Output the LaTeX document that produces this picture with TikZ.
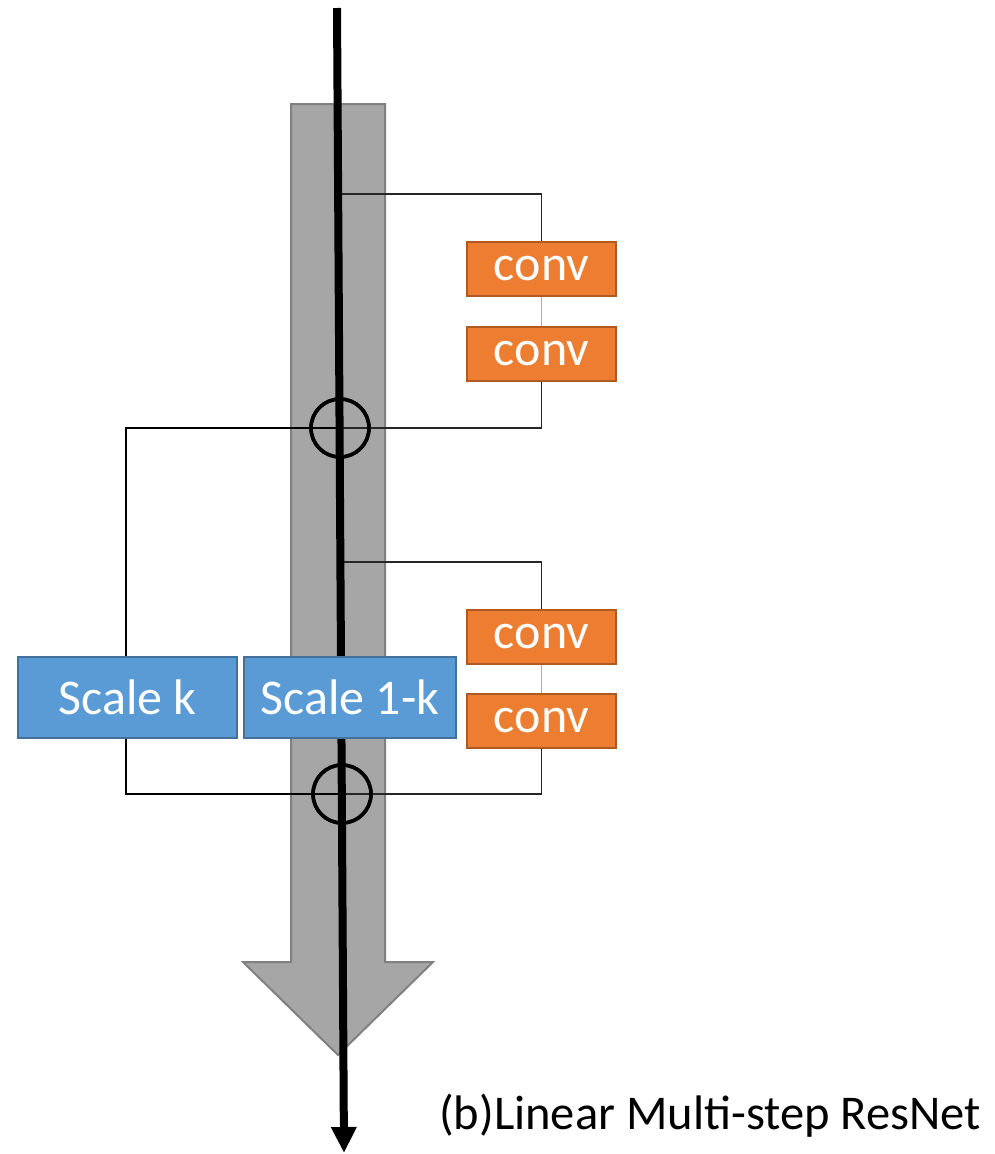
\documentclass[tikz,border=0pt]{standalone}
\usepackage{fontspec}
\setmainfont{Carlito}
\usetikzlibrary{arrows.meta}
\definecolor{convfill}{HTML}{ED7D31}
\definecolor{convline}{HTML}{AE5A21}
\definecolor{scalefill}{HTML}{5B9BD5}
\definecolor{scaleline}{HTML}{41719C}
\definecolor{linkblue}{HTML}{8DB7E2}
\definecolor{flowfill}{HTML}{A6A6A6}
\definecolor{flowline}{HTML}{808080}
\tikzset{
  convbox/.style={draw=convline, line width=2pt, fill=convfill, text=white,
    minimum width=149pt, minimum height=54pt, inner sep=0pt,
    font=\fontsize{50}{52}\selectfont},
  scalebox/.style={draw=scaleline, line width=2pt, fill=scalefill, text=white,
    minimum height=81pt, inner sep=0pt, font=\fontsize{50}{52}\selectfont},
  sumnode/.style={circle, draw=black, line width=3.5pt, minimum size=58pt, inner sep=0pt},
  thin wire/.style={draw=black!85, line width=1.2pt},
  thick wire/.style={draw=black, line width=2.6pt},
  link wire/.style={draw=linkblue, line width=1.8pt},
  mainflow/.style={draw=black, line width=8pt, -{Triangle[length=26pt,width=24pt]}},
}
\begin{document}
\begin{tikzpicture}[x=1pt,y=-1pt]
\useasboundingbox (0,0) rectangle (994,1154);

% wide grey arrow in the background
\draw[fill=flowfill, draw=flowline, line width=2pt]
  (291,104) -- (385,104) -- (385,962) -- (433,962) -- (338,1055)
  -- (243,962) -- (291,962) -- cycle;

% points on the main path
\coordinate (top) at (337,8);
\coordinate (bottom) at (344,1153);
\coordinate (split1) at (339,194);
\coordinate (split2) at (341,562);
\coordinate (leftA) at (126,428);
\coordinate (leftB) at (126,794);

% residual blocks
\node[convbox] (c1) at (541.5,269) {conv};
\node[convbox] (c2) at (541.5,353.5) {conv};
\node[convbox] (c3) at (541.5,636.5) {conv};
\node[convbox] (c4) at (541.5,720.5) {conv};

\node[sumnode] (s1) at (340,428) {};
\node[sumnode] (s2) at (342,794) {};

% scaling boxes
\node[scalebox, minimum width=219pt] (sk) at (127.5,697.5) {Scale k};
\node[scalebox, minimum width=212pt] (sk1) at (350,697.5) {Scale 1-k};

% thin wiring
\draw[thin wire] (split1) -| (c1.north);
\draw[link wire] (c1.south) -- (c2.north);
\draw[thin wire] (c2.south) |- (s1.center);
\draw[thin wire] (split2) -| (c3.north);
\draw[link wire] (c3.south) -- (c4.north);
\draw[thin wire] (c4.south) |- (s2.center);

% skip path through Scale k
\draw[thick wire] (s1.center) -- (leftA) -- (sk.north -| leftA);
\draw[thick wire] (sk.south -| leftB) -- (leftB) -- (s2.center);

% main signal path
\draw[mainflow] (top) -- (bottom);

% redraw sum circles and the Scale 1-k box above the main path
\node[sumnode] at (s1) {};
\node[sumnode] at (s2) {};
\node[scalebox, minimum width=212pt] at (sk1) {Scale 1-k};

\node[anchor=base west, inner sep=0pt, font=\fontsize{48.5}{50}\selectfont]
  (cap) at (439,1129) {(b)Linear Multi-step ResNet};
\end{tikzpicture}
\end{document}
